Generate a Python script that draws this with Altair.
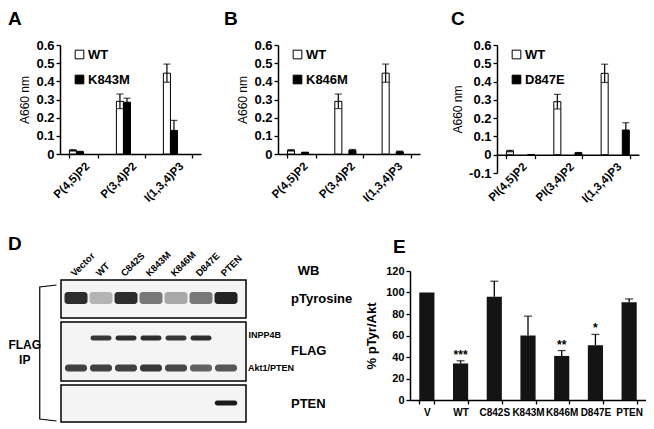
import altair as alt
import pandas as pd

FONT = "Liberation Sans"

# ---------------- data: panels A-C (A660 nm) ----------------
lipids_ab = ["P(4,5)P2", "P(3,4)P2", "I(1,3,4)P3"]
lipids_c = ["PI(4,5)P2", "PI(3,4)P2", "I(1,3,4)P3"]
wt_mean = [0.02, 0.29, 0.445]
wt_err = [0.004, 0.04, 0.05]
k843m_mean = [0.012, 0.285, 0.13]
k843m_err = [0.003, 0.022, 0.055]
k846m_mean = [0.008, 0.02, 0.012]
k846m_err = [0.002, 0.005, 0.004]
d847e_mean = [-0.003, 0.01, 0.135]
d847e_err = [0.001, 0.002, 0.04]

# ---------------- data: panel E (% pTyr/Akt) ----------------
e_labels = ["V", "WT", "C842S", "K843M", "K846M", "D847E", "PTEN"]
e_mean = [100, 34, 96, 60, 41, 51, 91]
e_err = [0, 2.5, 14.5, 18, 5, 10, 3]
e_stars = ["", "***", "", "", "**", "*", ""]

# ---------------- data: panel D (western blot band darkness 0-1) ----------------
lanes = ["Vector", "WT", "C842S", "K843M", "K846M", "D847E", "PTEN"]
ptyr_band = [0.85, 0.25, 0.85, 0.5, 0.3, 0.5, 0.9]
inpp4b_band = [0.0, 0.8, 0.85, 0.85, 0.8, 0.85, 0.0]
akt_band = [0.75, 0.75, 0.75, 0.8, 0.72, 0.6, 0.65]
pten_band = [0.0, 0.0, 0.0, 0.0, 0.0, 0.0, 0.95]

AX = dict(domainColor="black", tickColor="black", labelColor="black", titleColor="black",
          domainWidth=1.5, tickWidth=1.3, tickSize=4, grid=False, labelOverlap=False)


def letter(t, dx, offset=10):
    return alt.TitleParams(text=t, anchor="start", frame="group", dx=dx, offset=offset,
                           fontSize=19, fontWeight="bold", font=FONT, color="black")


def lipid_panel(let, cats, mut_name, mut_mean, mut_err, ymin, height, width, dx, xoff):
    df = pd.DataFrame({
        "lipid": cats + cats,
        "geno": ["WT"] * len(cats) + [mut_name] * len(cats),
        "mean": wt_mean + mut_mean,
        "err": wt_err + mut_err,
    })
    df["lo"] = df["mean"] - df["err"]
    df["hi"] = df["mean"] + df["err"]
    yvals = [round(v * 0.1, 1) for v in range(int(round(ymin * 10)), 7)]
    x = alt.X("lipid:N", sort=cats, title=None,
              scale=alt.Scale(paddingInner=0.4, paddingOuter=0.2),
              axis=alt.Axis(labelAngle=-45, tickBand="extent", labelFontSize=11.5,
                            labelFontWeight="bold", labelPadding=2, offset=xoff, **AX))
    xo = alt.XOffset("geno:N", sort=["WT", mut_name])
    ysc = alt.Scale(domain=[ymin, 0.6], nice=False)
    yax = alt.Axis(values=yvals, tickCount=len(yvals), title="A660 nm", titleFontSize=12,
                   titleFontWeight="normal", titlePadding=4, labelFontSize=13, labelFontWeight="bold",
                   labelExpr="datum.value == 0 ? '0' : (datum.value < 0 ? '-' + format(-datum.value, '.1f') : format(datum.value, '.1f'))",
                   **AX)
    base = alt.Chart(df)
    bars = base.mark_bar(stroke="black", strokeWidth=1).encode(
        x=x, xOffset=xo,
        y=alt.Y("mean:Q", scale=ysc, axis=yax, title="A660 nm"),
        fill=alt.Fill("geno:N", scale=alt.Scale(domain=["WT", mut_name], range=["white", "black"]),
                      legend=alt.Legend(title=None, orient="none", legendX=13, legendY=3,
                                        symbolType="square", symbolSize=75, symbolStrokeColor="black",
                                        symbolStrokeWidth=1, labelFontSize=13, labelFontWeight="bold",
                                        labelFont=FONT, labelColor="black", rowPadding=11, labelOffset=2)),
    )
    rules = base.mark_rule(color="black", strokeWidth=1.2).encode(
        x=x, xOffset=xo, y=alt.Y("lo:Q", scale=ysc, axis=yax, title="A660 nm"), y2="hi:Q")
    cap_hi = base.mark_tick(color="black", size=7, thickness=1.2).encode(
        x=x, xOffset=xo, y=alt.Y("hi:Q", scale=ysc, axis=yax, title="A660 nm"))
    cap_lo = base.mark_tick(color="black", size=7, thickness=1.2).encode(
        x=x, xOffset=xo, y=alt.Y("lo:Q", scale=ysc, axis=yax, title="A660 nm"))
    return alt.layer(bars, rules, cap_hi, cap_lo).properties(
        width=width, height=height, title=letter(let, dx))


pA = lipid_panel("A", lipids_ab, "K843M", k843m_mean, k843m_err, 0.0, 109, 141, -52, 0)
pB = lipid_panel("B", lipids_ab, "K846M", k846m_mean, k846m_err, 0.0, 109, 142, -54, 0)
pC = lipid_panel("C", lipids_c, "D847E", d847e_mean, d847e_err, -0.1, 128, 142, -46, -18.3)

top = alt.hconcat(pA, pB, pC, spacing=77, bounds="flush").resolve_scale(
    x="independent", y="independent", fill="independent").resolve_legend(fill="independent")

# ---------------- panel D: blot schematic ----------------
# layout of the blot strips (vertical units = pixels of the panel)
band_geom = {"pTyrosine": (27, 6, 0.46), "INPP4B": (67, 2.5, 0.42),
             "Akt1/PTEN": (97, 3.5, 0.44), "PTEN": (132, 2.5, 0.45)}
box_geom = [(9, 47), (51, 110), (114, 151)]

rows = []
for name, vals in [("pTyrosine", ptyr_band), ("INPP4B", inpp4b_band),
                   ("Akt1/PTEN", akt_band), ("PTEN", pten_band)]:
    yc, hh, hw = band_geom[name]
    for i, v in enumerate(vals):
        if v > 0:
            rows.append(dict(lx=i - hw, lx2=i + hw, ly=yc - hh, ly2=yc + hh, dark=v))
bands_df = pd.DataFrame(rows)

n_l = len(lanes)
boxes_df = pd.DataFrame([dict(lx=-0.6, lx2=n_l - 1 + 0.8, ly=a, ly2=b) for a, b in box_geom])
lane_df = pd.DataFrame({"lx": [i - 0.05 for i in range(n_l)], "ly": [6] * n_l, "t": lanes})
big_df = pd.DataFrame({"lx": [8.6, 8.6, 8.6], "ly": [28, 80, 133], "t": ["pTyrosine", "FLAG", "PTEN"]})
wb_df = pd.DataFrame({"lx": [9.3], "ly": [0], "t": ["WB"]})
small_df = pd.DataFrame({"lx": [n_l - 1 + 0.9, n_l - 1 + 0.88], "ly": [64, 97], "t": ["INPP4B", "Akt1/PTEN"]})
ip_df = pd.DataFrame({"lx": [-2.05, -2.05], "ly": [74, 89], "t": ["FLAG", "IP"]})
br_df = pd.DataFrame({"lx": [-0.78, -1.45, -1.45, -0.78], "ly": [14, 16, 148, 150], "o": [0, 1, 2, 3]})

dxs = alt.Scale(domain=[-0.64, 11.76], nice=False, zero=False)
dys = alt.Scale(domain=[0, 129], nice=False, zero=False, reverse=True)
DX = alt.X("lx:Q", scale=dxs, axis=None)
DY = alt.Y("ly:Q", scale=dys, axis=None)

d_boxes = alt.Chart(boxes_df).mark_rect(fill="#f4f4f4", stroke="black", strokeWidth=1.5, clip=False).encode(
    x=DX, x2="lx2:Q", y=DY, y2="ly2:Q")
d_bands = alt.Chart(bands_df).mark_rect(cornerRadius=3, clip=False).encode(
    x=DX, x2="lx2:Q", y=DY, y2="ly2:Q",
    fill=alt.Fill("dark:Q", scale=alt.Scale(domain=[0, 1], range=["#f4f4f4", "#101010"]), legend=None))
d_lanes = alt.Chart(lane_df).mark_text(angle=315, align="left", baseline="alphabetic", fontSize=9.5,
                                       fontWeight="bold", clip=False, color="black").encode(x=DX, y=DY, text="t:N")
d_big = alt.Chart(big_df).mark_text(align="left", baseline="middle", fontSize=13, fontWeight="bold",
                                    clip=False, color="black").encode(x=DX, y=DY, text="t:N")
d_wb = alt.Chart(wb_df).mark_text(align="center", baseline="middle", fontSize=13, fontWeight="bold",
                                  clip=False, color="black").encode(x=DX, y=DY, text="t:N")
d_small = alt.Chart(small_df).mark_text(align="left", baseline="middle", fontSize=9, fontWeight="bold",
                                        clip=False, color="black").encode(x=DX, y=DY, text="t:N")
d_ip = alt.Chart(ip_df).mark_text(align="center", baseline="middle", fontSize=12, fontWeight="bold",
                                  clip=False, color="black").encode(x=DX, y=DY, text="t:N")
d_br = alt.Chart(br_df).mark_line(color="black", strokeWidth=1.2, clip=False).encode(
    x=DX, y=DY, order="o:Q")

pD = alt.layer(d_boxes, d_bands, d_lanes, d_big, d_wb, d_small, d_ip, d_br).properties(
    width=310, height=129, title=letter("D", -52, -4))

# ---------------- panel E ----------------
edf = pd.DataFrame({"c": e_labels, "m": e_mean, "err": e_err, "star": e_stars})
edf["hi"] = edf["m"] + edf["err"]
ex = alt.X("c:N", sort=e_labels, title=None, scale=alt.Scale(paddingInner=0.55, paddingOuter=0.275),
           axis=alt.Axis(labelAngle=0, tickBand="extent", labelFontSize=10, labelFontWeight="bold",
                         labelPadding=3, **AX))
esc = alt.Scale(domain=[0, 120], nice=False)
e_vals = [0, 20, 40, 60, 80, 100, 120]
eax = alt.Axis(values=e_vals, tickCount=len(e_vals), title="% pTyr/Akt", titleFontSize=13,
               titleFontWeight="bold", titlePadding=7, labelFontSize=11, labelFontWeight="bold", **AX)
eb = alt.Chart(edf)
e_bars = eb.mark_bar(color="#141414").encode(x=ex, y=alt.Y("m:Q", scale=esc, axis=eax, title="% pTyr/Akt"))
e_rules = eb.transform_filter("datum.err > 0").mark_rule(color="black", strokeWidth=1.3).encode(
    x=ex, y=alt.Y("m:Q", scale=esc, axis=eax, title="% pTyr/Akt"), y2="hi:Q")
e_caps = eb.transform_filter("datum.err > 0").mark_tick(color="black", size=8, thickness=1.3).encode(
    x=ex, y=alt.Y("hi:Q", scale=esc, axis=eax, title="% pTyr/Akt"))
e_stars_l = eb.mark_text(baseline="alphabetic", dy=-2, fontSize=12, fontWeight="bold", color="black").encode(
    x=ex, y=alt.Y("hi:Q", scale=esc, axis=eax, title="% pTyr/Akt"), text="star:N")
pE = alt.layer(e_bars, e_rules, e_caps, e_stars_l).properties(
    width=236, height=129, title=letter("E", -17, 8))

bottom = alt.hconcat(pD, pE, spacing=40, bounds="flush").resolve_scale(
    x="independent", y="independent", fill="independent").resolve_legend(fill="independent")

chart = alt.vconcat(top, bottom, spacing=29, bounds="full").resolve_scale(
    x="independent", y="independent", fill="independent").resolve_legend(
    fill="independent").properties(padding={"top": 2, "left": 0, "right": 0, "bottom": 0}
    ).configure(font=FONT).configure_view(
    stroke=None).configure_axis(labelOverlap=False, labelBound=False)

chart.save("out.html", embed_options={"renderer": "svg", "actions": False})
